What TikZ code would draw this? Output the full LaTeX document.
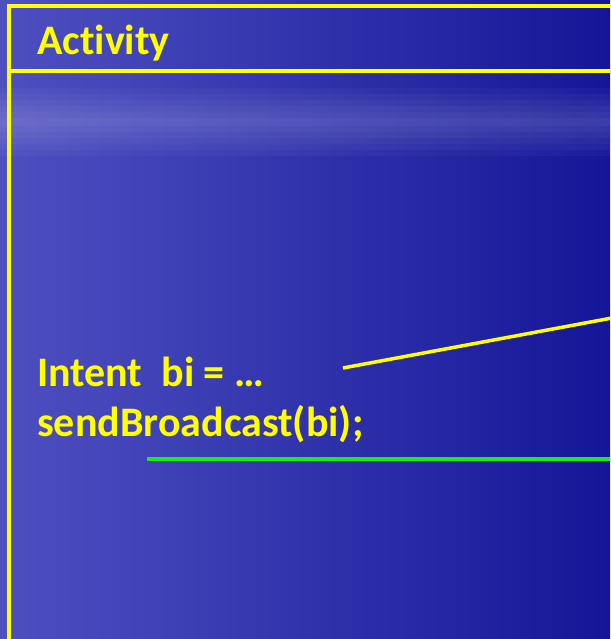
\documentclass[tikz,border=0pt]{standalone}
\usepackage{fontspec}
\setmainfont{Carlito}[Ligatures=NoCommon]
\usetikzlibrary{positioning,fadings}
\definecolor{SlideYellow}{RGB}{255,255,0}
\definecolor{SlideGreen}{RGB}{20,240,20}
\definecolor{DeepBlue}{RGB}{20,22,152}
\definecolor{SoftBlue}{RGB}{78,80,192}
\tikzset{
  code/.style = {anchor=base west, inner sep=0pt, text=SlideYellow,
    font=\fontsize{42}{50}\selectfont\bfseries},
  frame/.style = {draw=SlideYellow, line width=3.5pt},
  link/.style = {line width=3.5pt}
}
\begin{document}
\begin{tikzpicture}[x=1pt, y=-1pt]
\useasboundingbox (0,0) rectangle (610,639);
\clip (0,0) rectangle (610,639);
% background
\shade[left color=SoftBlue, right color=DeepBlue] (0,0) rectangle (610,639);
\foreach \d in {0,6,...,30}
  \fill[white, opacity=0.03] (0,118-\d) rectangle (610,126+\d);
%
\draw[frame] (9,6) rectangle (625,660);
\draw[frame] (9,71) -- (625,71);
%
\node[code] (act) at (37,55) {Activity};
\node[code] (intent) at (37,386) {Intent\ \ bi = …};
\node[code] (send) at (37,436) {sendBroadcast(bi);};
%
\coordinate (yend) at (612,318);
\coordinate (gstart) at (147,459);
\coordinate (gend) at (612,459);
\draw[link, SlideYellow] (343,368) -- (yend);
\draw[link, SlideGreen] (gstart) -- (gend);
\end{tikzpicture}
\end{document}
